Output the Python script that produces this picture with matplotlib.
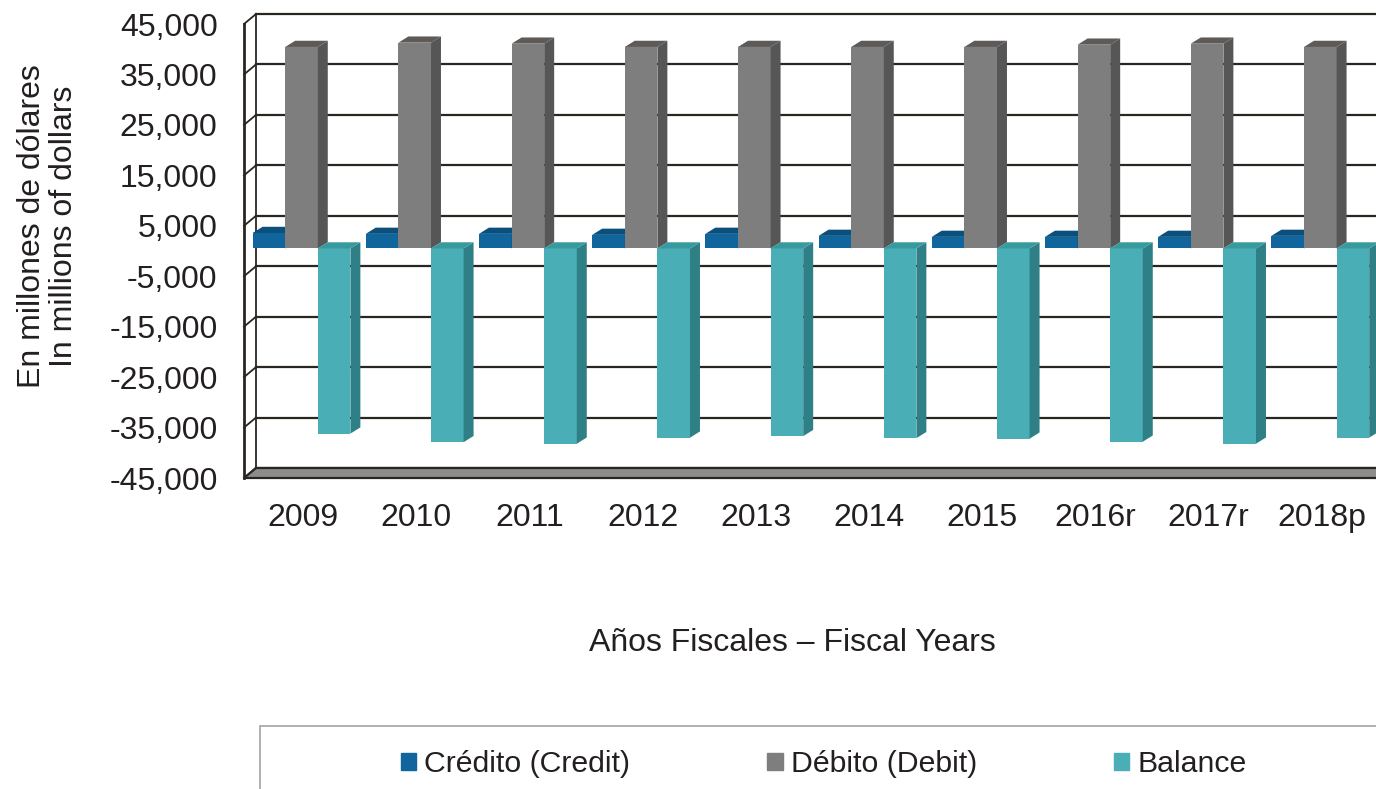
import matplotlib
matplotlib.use('Agg')
import matplotlib.pyplot as plt
import matplotlib.patches as mpatches

plt.rcParams['font.family'] = ['Liberation Sans', 'DejaVu Sans']

W, H = 1376, 789

years = ['2009', '2010', '2011', '2012', '2013', '2014', '2015', '2016r', '2017r', '2018p']
credito = [3070, 2900, 2900, 2700, 2900, 2500, 2300, 2300, 2300, 2500]
debito = [39950, 40800, 40600, 39950, 39950, 39950, 39950, 40400, 40600, 39950]
balance = [-36700, -38400, -38700, -37500, -37200, -37600, -37700, -38300, -38700, -37500]
ytick_vals = [45000, 35000, 25000, 15000, 5000, -5000, -15000, -25000, -35000, -45000]

LINE = '#2b2522'

# 3d look, offsets in data units
WALL_DX, WALL_DY = 0.106, 1980
BAR_DX, BAR_DY = 0.088, 1230
BAR_W = 0.288
BASE = 500


def draw_bars(ax, offset, values, front, side, top):
    for i, v in enumerate(values):
        x0 = i + offset - BAR_W / 2
        x1 = x0 + BAR_W
        ax.bar(x0, v, width=BAR_W, bottom=BASE, align='edge', color=front, zorder=3)
        hi = max(BASE, BASE + v)
        lo = min(BASE, BASE + v)
        ax.fill([x1, x1 + BAR_DX, x1 + BAR_DX, x1], [lo, lo + BAR_DY, hi + BAR_DY, hi],
                color=side, lw=0, zorder=3, clip_on=False)
        ax.fill([x0, x0 + BAR_DX, x1 + BAR_DX, x1], [hi, hi + BAR_DY, hi + BAR_DY, hi],
                color=top, lw=0, zorder=3, clip_on=False)


fig = plt.figure(figsize=(W / 100, H / 100), dpi=100)
# front plane of the box: x 244 to the picture edge, y 24 to 478
ax = fig.add_axes([244 / W, 1 - 478 / H, (W - 244) / W, (478 - 24) / H])
xmin, xmax = -0.521, 9.479
ymin, ymax = -45000, 45000
ax.set_xlim(xmin, xmax)
ax.set_ylim(ymin, ymax)

# back wall and grid
for v in ytick_vals:
    ax.plot([xmin + WALL_DX, xmax + WALL_DX], [v + WALL_DY, v + WALL_DY], color=LINE, lw=1.6, zorder=1, clip_on=False)
    ax.plot([xmin, xmin + WALL_DX], [v, v + WALL_DY], color=LINE, lw=1.3, zorder=1, clip_on=False)
ax.plot([xmin + WALL_DX, xmin + WALL_DX], [ymin + WALL_DY, ymax + WALL_DY], color=LINE, lw=1.3, zorder=1, clip_on=False)
ax.plot([xmin, xmin], [ymin, ymax], color=LINE, lw=2, zorder=2, clip_on=False)

# floor
ax.fill([xmin, xmin + WALL_DX, xmax + WALL_DX, xmax], [ymin, ymin + WALL_DY, ymin + WALL_DY, ymin],
        facecolor='#8c8c8c', edgecolor=LINE, lw=1.6, zorder=2, clip_on=False)

draw_bars(ax, -0.301, credito, '#10659c', '#0c5078', '#0b4f7c')
draw_bars(ax, -0.013, debito, '#7e7e7e', '#565656', '#5e5a58')
draw_bars(ax, 0.275, balance, '#4aaeb6', '#2f7f86', '#369a9e')

for s in ax.spines.values():
    s.set_visible(False)
ax.set_xticks(range(len(years)))
ax.set_xticklabels(years)
ax.set_yticks(ytick_vals)
ax.set_yticklabels([f'{v:,}' for v in ytick_vals])
ax.tick_params(axis='x', length=0, pad=18, labelsize=23, labelcolor='#231f20')
ax.tick_params(axis='y', length=0, pad=19, labelsize=23, labelcolor='#231f20')

fig.text(48 / W, 1 - 226 / H, 'En millones de dólares\nIn millions of dollars', rotation=90,
         ha='center', va='center', fontsize=23, color='#231f20', linespacing=1.12)
fig.text(792 / W, 1 - 643 / H, 'Años Fiscales – Fiscal Years', ha='center', va='center',
         fontsize=23, color='#231f20')

# legend box runs off the right and bottom of the picture
fig.add_artist(mpatches.Rectangle((260 / W, -0.05), 1.0, 1 - 726 / H + 0.05, transform=fig.transFigure,
                                  facecolor='none', edgecolor='#a3a3a3', lw=1.2))
handles = [mpatches.Patch(color='#10659c', label='Crédito (Credit)'),
           mpatches.Patch(color='#7e7e7e', label='Débito (Debit)'),
           mpatches.Patch(color='#4aaeb6', label='Balance')]
leg = fig.legend(handles=handles, loc='center left', bbox_to_anchor=(401 / W, 1 - 764 / H), ncol=3,
                 frameon=False, fontsize=21.8, handlelength=0.5, handleheight=0.5, handletextpad=0.27,
                 columnspacing=4.53, borderpad=0, borderaxespad=0, labelcolor='#231f20')

fig.savefig('out.png', dpi=100)
